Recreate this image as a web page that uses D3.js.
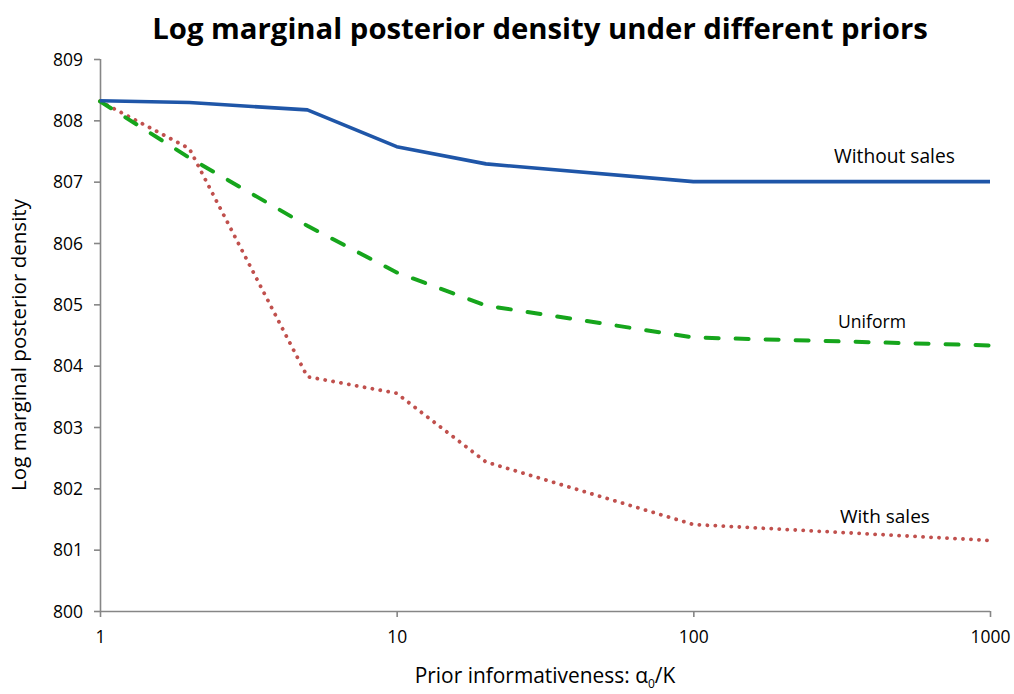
<!DOCTYPE html>
<html>
<head>
<meta charset="utf-8">
<script src="https://cdn.jsdelivr.net/npm/d3@7"></script>
<style>
  body { margin: 0; background: #fff; }
  text { font-family: "Open Sans", "Liberation Sans", sans-serif; fill: #000; }
</style>
</head>
<body>
<svg id="chart" width="1014" height="694"></svg>
<script>
const xValues = [1, 2, 5, 10, 20, 100, 1000];
const withoutSales = [808.32, 808.29, 808.17, 807.57, 807.29, 807.0, 807.0];
const uniform = [808.31, 807.39, 806.28, 805.52, 804.98, 804.46, 804.33];
const withSales = [808.31, 807.54, 803.82, 803.55, 802.43, 801.41, 801.15];
const xTicks = [1, 10, 100, 1000];
const yTicks = [800, 801, 802, 803, 804, 805, 806, 807, 808, 809];
const seriesNames = ["Without sales", "Uniform", "With sales"];

const svg = d3.select("#chart");
const margin = {left: 100, right: 24, top: 59, bottom: 83};
const W = 1014, H = 694;
const x = d3.scaleLog().domain([1, 1000]).range([margin.left, W - margin.right]);
const y = d3.scaleLinear().domain([800, 809]).range([H - margin.bottom, margin.top]);

const axisColor = "#868686";

function fitWidth(sel, target) {
  const w = sel.node().getComputedTextLength();
  const fs = parseFloat(sel.style("font-size"));
  sel.style("font-size", (fs * target / w) + "px");
}

// y axis
const yAxis = svg.append("g").attr("transform", `translate(${margin.left},0)`)
  .call(d3.axisLeft(y).tickValues(yTicks).tickSize(6).tickPadding(11).tickFormat(d3.format("d")));
yAxis.selectAll("path, line").attr("stroke", axisColor).attr("stroke-width", 1.6);
yAxis.select(".domain").attr("d", `M0.5,${y(809)}V${y(800)}`);
yAxis.selectAll("text").style("font-size", "16px").attr("dy", "0.35em");
fitWidth(yAxis.select(".tick text"), 30);
const yfs = yAxis.select(".tick text").style("font-size");
yAxis.selectAll("text").style("font-size", yfs);

// x axis
const xAxis = svg.append("g").attr("transform", `translate(0,${y(800)})`)
  .call(d3.axisBottom(x).tickValues(xTicks).tickSize(6).tickPadding(14).tickFormat(d3.format("d")));
xAxis.selectAll("path, line").attr("stroke", axisColor).attr("stroke-width", 1.6);
xAxis.select(".domain").attr("d", `M${x(1)},0.5H${x(1000)}`);
xAxis.selectAll("text").style("font-size", yfs);

const line = d3.line().x((d, i) => x(xValues[i])).y(d => y(d));

svg.append("path").datum(withSales).attr("d", line)
  .attr("fill", "none").attr("stroke", "#c0504d").attr("stroke-width", 3.8)
  .attr("stroke-linecap", "round").attr("stroke-dasharray", "0.1,7.9");
svg.append("path").datum(uniform).attr("d", line)
  .attr("fill", "none").attr("stroke", "#16a51c").attr("stroke-width", 4)
  .attr("stroke-linecap", "round").attr("stroke-dasharray", "13,17");
svg.append("path").datum(withoutSales).attr("d", line)
  .attr("fill", "none").attr("stroke", "#1f56a8").attr("stroke-width", 3.6)
  .attr("stroke-linejoin", "round");

// series labels
const labelPos = [[834, 163], [838, 328], [840, 523]];
const labelW = [121, 68, 90];
seriesNames.forEach((n, i) => {
  const t = svg.append("text").attr("x", labelPos[i][0]).attr("y", labelPos[i][1])
    .style("font-size", "16px").text(n);
  fitWidth(t, labelW[i]);
});

// title
const title = svg.append("text").attr("x", 540).attr("y", 39).attr("text-anchor", "middle")
  .style("font-size", "27px").style("font-weight", "bold")
  .text("Log marginal posterior density under different priors");
fitWidth(title, 776);

// x axis label
const xl = svg.append("text").attr("x", 545).attr("y", 683).attr("text-anchor", "middle")
  .style("font-size", "18px");
xl.append("tspan").text("Prior informativeness: ");
xl.append("tspan").text("α");
xl.append("tspan").attr("dy", 5).style("font-size", "12px").text("0");
xl.append("tspan").attr("dy", -5).text("/K");
fitWidth(xl, 262);

// y axis label
const yl = svg.append("text").attr("transform", `translate(26,345) rotate(-90)`)
  .attr("text-anchor", "middle").style("font-size", "18px")
  .text("Log marginal posterior density");
fitWidth(yl, 292);
</script>
</body>
</html>
